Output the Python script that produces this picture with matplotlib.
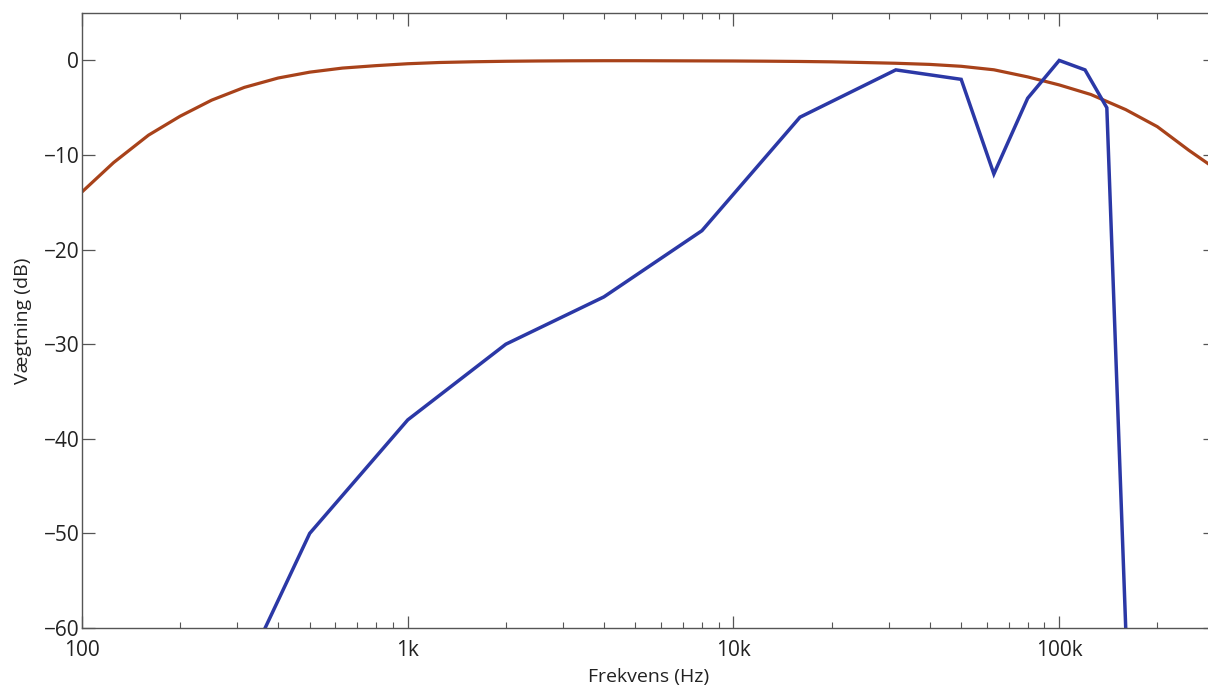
import matplotlib
matplotlib.use("Agg")
import matplotlib.pyplot as plt
from matplotlib.ticker import FixedLocator, NullFormatter, LogLocator

plt.rcParams['font.family'] = ['Open Sans', 'DejaVu Sans']

# measured response (octave / third-octave points)
maal_freq = [250, 500, 1000, 2000, 4000, 8000, 16000, 31500, 50000,
             63000, 80000, 100000, 120000, 140000, 160000]
maal_db = [-72, -50, -38, -30, -25, -18, -6, -1, -2,
           -12, -4, 0, -1, -5, -60]

# weighting filter curve
filt_freq = [100, 125, 160, 200, 250, 315, 400, 500, 630, 800,
             1000, 1250, 1600, 2000, 2500, 3150, 4000, 5000, 6300, 8000,
             10000, 12500, 16000, 20000, 25000, 31500, 40000, 50000, 63000, 80000,
             100000, 125000, 160000, 200000, 250000, 315000]
filt_db = [-13.9, -10.8, -7.9, -5.9, -4.2, -2.85, -1.86, -1.24, -0.81, -0.55,
           -0.35, -0.22, -0.14, -0.09, -0.06, -0.04, -0.03, -0.03, -0.04, -0.05,
           -0.06, -0.08, -0.11, -0.15, -0.22, -0.3, -0.42, -0.62, -0.99, -1.74,
           -2.59, -3.6, -5.2, -7.0, -9.5, -11.9]

x_ticks = [100, 1000, 10000, 100000]
x_ticklabels = ['100', '1k', '10k', '100k']
y_ticks = [0, -10, -20, -30, -40, -50, -60]
y_ticklabels = ['0', '\u221210', '\u221220', '\u221230', '\u221240', '\u221250', '\u221260']

fig = plt.figure(figsize=(12.08, 6.91), dpi=100)
ax = fig.add_axes([0.0679, 0.0912, 0.9376, 0.8898])

ax.plot(filt_freq, filt_db, color='#A8421A', lw=2.3, solid_capstyle='round',
        solid_joinstyle='round')
ax.plot(maal_freq, maal_db, color='#2B38A6', lw=2.5, solid_joinstyle='miter')

ax.set_xscale('log')
ax.set_xlim(100, 300000)
ax.set_ylim(-60, 5)

ax.xaxis.set_major_locator(FixedLocator(x_ticks))
ax.set_xticklabels(x_ticklabels)
ax.xaxis.set_minor_locator(LogLocator(base=10, subs=range(2, 10), numticks=20))
ax.xaxis.set_minor_formatter(NullFormatter())
ax.set_yticks(y_ticks)
ax.set_yticklabels(y_ticklabels)

ax.tick_params(which='both', direction='in', top=True, right=True,
               colors='#555555', labelcolor='#222222', labelsize=15)
ax.tick_params(which='major', length=9, width=0.9)
ax.tick_params(which='minor', length=4, width=0.8)
ax.tick_params(axis='x', pad=9)
ax.tick_params(axis='y', pad=2)

for s in ax.spines.values():
    s.set_color('#555555')
    s.set_linewidth(1.0)

ax.set_xlabel('Frekvens (Hz)', fontsize=14, color='#222222', labelpad=5)
ax.set_ylabel('Vægtning (dB)', fontsize=14, color='#222222', labelpad=8)

fig.savefig('out.png', dpi=100)
